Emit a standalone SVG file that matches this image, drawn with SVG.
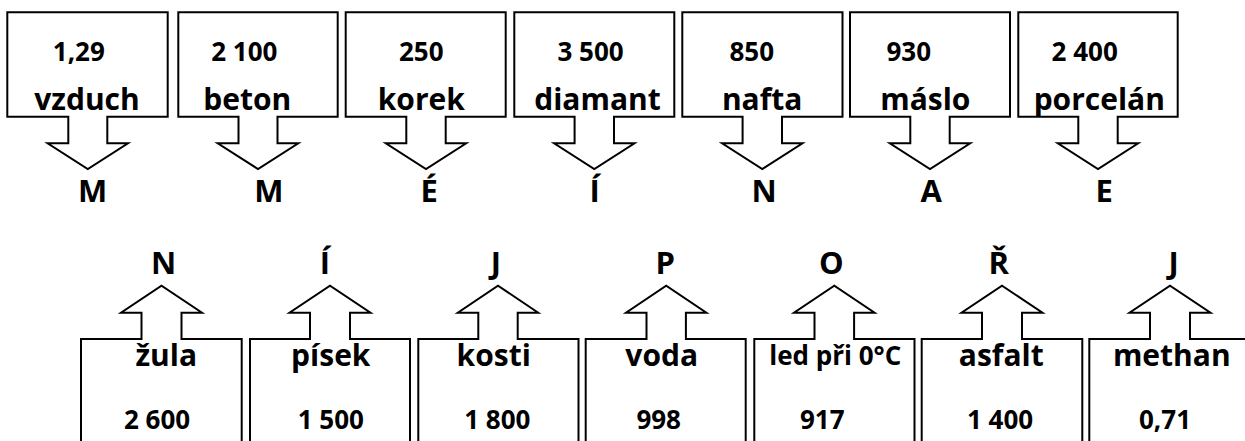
<svg xmlns="http://www.w3.org/2000/svg" width="1245" height="441" viewBox="0 0 1245 441">
<style>
.c{fill:#fff;stroke:#000;stroke-width:2;stroke-linejoin:miter}
text{font-family:"Open Sans","Liberation Sans",sans-serif;font-weight:bold;fill:#000;text-anchor:middle}
.n{font-size:26px}
.w{font-size:30px}
.l{font-size:31px}
.s{font-size:26px}
</style>
<rect width="1245" height="441" fill="#fff"/>
<g id="connectors"></g>
<g id="n1">
<path class="c" d="M7.3,12.3 H167.7 V116.7 H107.3 V143.3 H128 L87.8,169 L47.6,143.3 H68.3 V116.7 H7.3 Z"/>
<text class="n" x="78.8" y="61">1,29</text><text class="w" x="87" y="110">vzduch</text><text class="l" x="92.5" y="201.7">M</text>
</g>
<g id="n2">
<path class="c" d="M178.3,12.3 H337.7 V116.7 H277.5 V143.3 H298.3 L258,169 L217.7,143.3 H238.5 V116.7 H178.3 Z"/>
<text class="n" x="244.3" y="61">2 100</text><text class="w" x="247.2" y="110">beton</text><text class="l" x="268.8" y="201.7">M</text>
</g>
<g id="n3">
<path class="c" d="M345.7,12.3 H505.7 V116.7 H445.7 V143.3 H466.2 L426,169 L385.8,143.3 H406.3 V116.7 H345.7 Z"/>
<text class="n" x="421.3" y="61">250</text><text class="w" x="421.3" y="110">korek</text><text class="l" x="429.2" y="201.7">É</text>
</g>
<g id="n4">
<path class="c" d="M514.3,12.3 H674.3 V116.7 H614 V143.3 H634.5 L594.3,169 L554.1,143.3 H574.6 V116.7 H514.3 Z"/>
<text class="n" x="590.5" y="61">3 500</text><text class="w" x="597.5" y="110">diamant</text><text class="l" x="594.7" y="201.7">Í</text>
</g>
<g id="n5">
<path class="c" d="M682.3,12.3 H842.5 V116.7 H782 V143.3 H802.5 L762.3,169 L722.1,143.3 H742.6 V116.7 H682.3 Z"/>
<text class="n" x="751.8" y="61">850</text><text class="w" x="762.2" y="110">nafta</text><text class="l" x="764.2" y="201.7">N</text>
</g>
<g id="n6">
<path class="c" d="M850,12.3 H1010 V116.7 H949.7 V143.3 H970.2 L930,169 L889.8,143.3 H910.3 V116.7 H850 Z"/>
<text class="n" x="908.8" y="61">930</text><text class="w" x="925.3" y="110">máslo</text><text class="l" x="931.2" y="201.7">A</text>
</g>
<g id="n7">
<path class="c" d="M1018.3,12.3 H1177.7 V116.7 H1117.7 V143.3 H1138.2 L1098,169 L1057.8,143.3 H1078.3 V116.7 H1018.3 Z"/>
<text class="n" x="1084.7" y="61">2 400</text><text class="w" x="1099.3" y="110">porcelán</text><text class="l" x="1104.2" y="201.7">E</text>
</g>
<g id="b1">
<path class="c" d="M81,460 V339 H141.5 V312.7 H121 L161.5,285.7 L202,312.7 H181.5 V339 H241.7 V460 Z"/>
<text class="l" x="163.7" y="274.3">N</text><text class="w" x="166.2" y="365.7">žula</text><text class="n" x="157" y="428.5">2 600</text>
</g>
<g id="b2">
<path class="c" d="M250,460 V339 H310 V312.7 H289.5 L330,285.7 L370.5,312.7 H350 V339 H410 V460 Z"/>
<text class="l" x="325" y="274.3">Í</text><text class="w" x="330.8" y="365.7">písek</text><text class="n" x="330.8" y="428.5">1 500</text>
</g>
<g id="b3">
<path class="c" d="M418.3,460 V339 H478.3 V312.7 H457.8 L498,285.7 L538.2,312.7 H517.7 V339 H578.5 V460 Z"/>
<text class="l" x="495.8" y="274.3">J</text><text class="w" x="493.7" y="365.7">kosti</text><text class="n" x="497.3" y="428.5">1 800</text>
</g>
<g id="b4">
<path class="c" d="M585.7,460 V339 H646.5 V312.7 H626 L666.2,285.7 L706.4,312.7 H685.9 V339 H745.7 V460 Z"/>
<text class="l" x="665.2" y="274.3">P</text><text class="w" x="661.7" y="365.7">voda</text><text class="n" x="658.7" y="428.5">998</text>
</g>
<g id="b5">
<path class="c" d="M754.3,460 V339 H814.5 V312.7 H794 L834.3,285.7 L874.6,312.7 H854.1 V339 H914.5 V460 Z"/>
<text class="l" x="831.3" y="274.3">O</text><text class="s" x="835.3" y="365">led při 0°C</text><text class="n" x="822.3" y="428.5">917</text>
</g>
<g id="b6">
<path class="c" d="M921.7,460 V339 H982 V312.7 H961.5 L1002,285.7 L1042.5,312.7 H1022 V339 H1082.3 V460 Z"/>
<text class="l" x="998.8" y="274.3">Ř</text><text class="w" x="1001.3" y="365.7">asfalt</text><text class="n" x="1000" y="428.5">1 400</text>
</g>
<g id="b7">
<path class="c" d="M1089.3,460 V339 H1150 V312.7 H1129.5 L1170,285.7 L1210.5,312.7 H1190 V339 H1250 V460 Z"/>
<text class="l" x="1173.7" y="274.3">J</text><text class="w" x="1171.8" y="365.7">methan</text><text class="n" x="1165" y="428.5">0,71</text>
</g>
</svg>
